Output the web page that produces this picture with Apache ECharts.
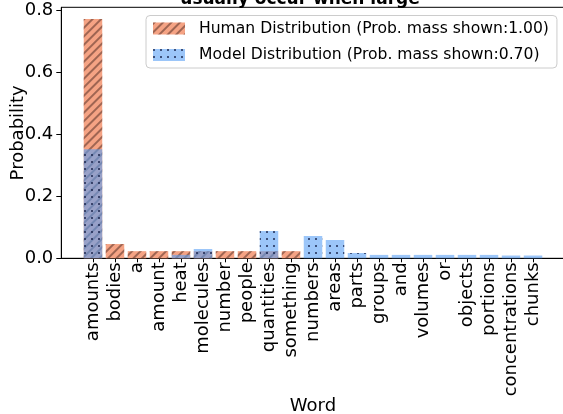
<!DOCTYPE html>
<html>
<head>
<meta charset="utf-8">
<script src="https://cdn.jsdelivr.net/npm/echarts@6/dist/echarts.min.js"></script>
<style>html,body{margin:0;padding:0;background:#fff;}#c{width:563px;height:414px;}</style>
</head>
<body>
<div id="c"></div>
<script>
const words = ['amounts','bodies','a','amount','heat','molecules','number','people','quantities','something','numbers','areas','parts','groups','and','volumes','or','objects','portions','concentrations','chunks'];
const humanProb = [0.772,0.046,0.023,0.023,0.023,0.023,0.023,0.023,0.023,0.023,0,0,0,0,0,0,0,0,0,0,0];
const modelProb = [0.352,0,0,0,0.011,0.030,0,0,0.088,0,0.072,0.059,0.017,0.011,0.011,0.011,0.011,0.011,0.011,0.009,0.009];
const yTicks = [0,0.2,0.4,0.6,0.8];
const titleText = 'usually occur when large';
const humanName = 'Human Distribution (Prob. mass shown:1.00)';
const modelName = 'Model Distribution (Prob. mass shown:0.70)';

const idx = words.map((w,i)=>i);
const font = 'DejaVu Sans';
const chart = echarts.init(document.getElementById('c'), null, {renderer:'canvas'});
chart.setOption({
  animation:false,
  backgroundColor:'#fff',
  textStyle:{fontFamily:font,color:'#000'},
  title:{text:titleText,left:295,top:-14,textAlign:'center',textStyle:{fontFamily:font,fontWeight:'bold',fontSize:17,color:'#000'}},
  grid:{left:61.3,top:7.3,width:503.4,height:251,outerBoundsMode:'none',containLabel:false,show:true,borderColor:'#000',borderWidth:1,backgroundColor:'transparent'},
  legend:{
    orient:'vertical',left:146,top:15.5,itemWidth:32,itemHeight:12,itemGap:10.5,icon:'rect',
    padding:[5,8,5,7],borderColor:'#ccc',borderWidth:1,borderRadius:4,backgroundColor:'rgba(255,255,255,0.85)',
    selectedMode:false,
    textStyle:{fontFamily:font,fontSize:15.6,color:'#000',padding:[0,0,0,9]},
    data:[humanName,modelName]
  },
  xAxis:{
    type:'value',min:-1.44,max:21.44,
    name:'Word',nameLocation:'middle',nameGap:139,nameMoveOverlap:false,nameTextStyle:{fontFamily:font,fontSize:18,color:'#000'},
    axisLine:{show:true,onZero:false,lineStyle:{color:'#000',width:1}},
    axisTick:{show:true,length:4,lineStyle:{color:'#000'},customValues:idx},
    axisLabel:{rotate:90,fontFamily:font,fontSize:18,color:'#000',margin:4,customValues:idx,formatter:v=>words[Math.round(v)]},
    splitLine:{show:false}
  },
  yAxis:{
    type:'value',min:0,max:0.81,
    name:'Probability',nameLocation:'middle',nameGap:34,nameMoveOverlap:false,nameTextStyle:{fontFamily:font,fontSize:18,color:'#000'},
    axisLine:{show:true,onZero:false,lineStyle:{color:'#000',width:1}},
    axisTick:{show:true,length:5,lineStyle:{color:'#000'},customValues:yTicks},
    axisLabel:{fontFamily:font,fontSize:18,color:'#000',margin:8,customValues:yTicks,formatter:v=>v.toFixed(1)},
    splitLine:{show:false}
  },
  series:[
    {name:humanName,type:'bar',barWidth:18.5,barGap:'-100%',
     data:humanProb.map((v,i)=>[i,v]),
     itemStyle:{color:'#F5A384',decal:{symbol:'rect',symbolSize:1,color:'rgba(90,50,40,0.55)',dashArrayX:[1,0],dashArrayY:[1.3,3.2],rotation:-Math.PI/4}}},
    {name:modelName,type:'bar',barWidth:18.5,barGap:'-100%',
     data:modelProb.map((v,i)=>[i,v]),
     itemStyle:{color:'rgba(90,160,245,0.6)',decal:{symbol:'rect',symbolSize:1,color:'rgba(20,30,70,0.7)',dashArrayX:[[1.5,4.5]],dashArrayY:[1.5,4.5],rotation:0}}}
  ]
});
</script>
</body>
</html>
